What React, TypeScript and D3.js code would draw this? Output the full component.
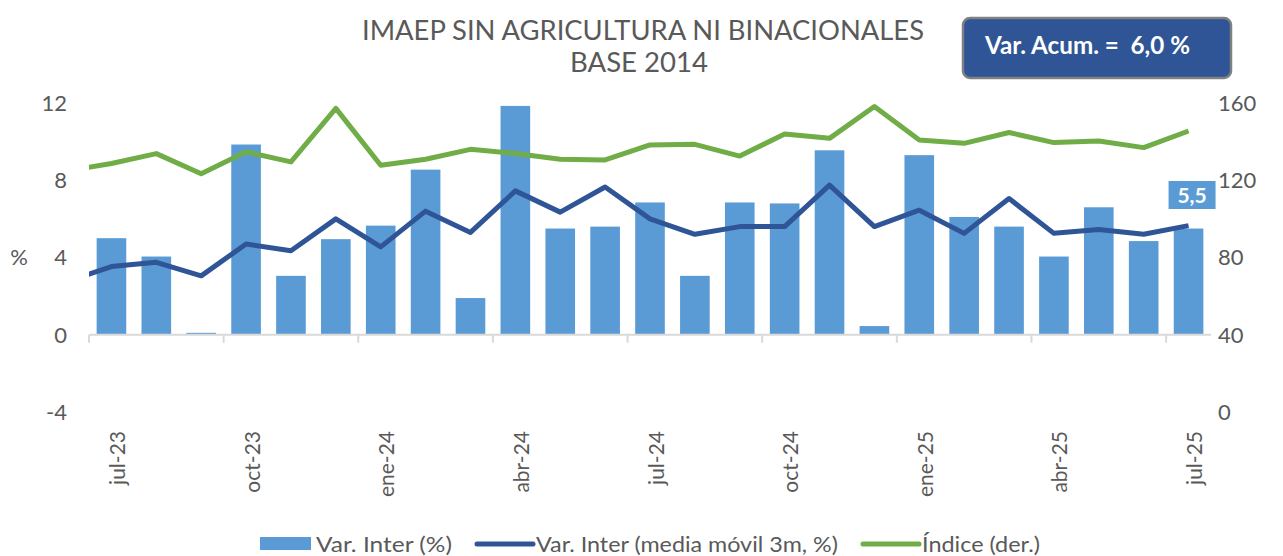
import React from 'react';
import * as d3 from 'd3';

// months shown on the x axis
const months = [
  'jul-23', 'ago-23', 'sep-23', 'oct-23', 'nov-23', 'dic-23',
  'ene-24', 'feb-24', 'mar-24', 'abr-24', 'may-24', 'jun-24',
  'jul-24', 'ago-24', 'sep-24', 'oct-24', 'nov-24', 'dic-24',
  'ene-25', 'feb-25', 'mar-25', 'abr-25', 'may-25', 'jun-25', 'jul-25',
];

// Var. Inter (%) - bars, left axis
const varInter = [
  5.0, 4.05, 0.1, 9.85, 3.05, 4.95, 5.65, 8.55, 1.9, 11.85, 5.5, 5.6,
  6.85, 3.05, 6.85, 6.8, 9.55, 0.45, 9.3, 6.1, 5.6, 4.05, 6.6, 4.85, 5.5,
];

// Var. Inter (media movil 3m, %) - left axis
const mediaMovil = [
  3.53, 3.75, 3.05, 4.7, 4.35, 6.0, 4.55, 6.4, 5.3, 7.45, 6.35, 7.65,
  6.0, 5.2, 5.6, 5.6, 7.75, 5.6, 6.45, 5.25, 7.05, 5.25, 5.45, 5.2, 5.65,
];

// Indice (der.) - right axis
const indice = [
  128.7, 133.8, 123.4, 134.7, 129.5, 157.2, 127.8, 130.9, 136.0, 133.8, 130.9, 130.5,
  138.3, 138.6, 132.5, 144.0, 141.7, 158.2, 140.9, 139.1, 144.7, 139.5, 140.3, 136.9, 145.5,
];

// value of the month before jul-23 (jun-23), the line enters from the left edge
const prevMediaMovil = 2.75;
const prevIndice = 124.7;

const leftTicks = [-4, 0, 4, 8, 12];
const rightTicks = [0, 40, 80, 120, 160];

const titleLines = ['IMAEP SIN AGRICULTURA NI BINACIONALES', 'BASE 2014'];
const accumLabel = 'Var. Acum. =  6,0 %';
const lastLabel = '5,5';

const W = 1283;
const H = 556;
const FONT = "Lato, 'Open Sans', sans-serif";
const GREY = '#595959';
const BAR = '#5B9BD5';
const DARK = '#2F5597';
const GREEN = '#70AD47';

const App = () => {
  const left = 89, right = 1211, top = 103, bottom = 412;

  const x = d3.scaleBand<string>().domain(months).range([left, right])
    .paddingInner(0.34).paddingOuter(0.17);
  const yL = d3.scaleLinear().domain([-4, 12]).range([bottom, top]);
  const yR = d3.scaleLinear().domain([0, 160]).range([bottom, top]);
  const step = x.step();
  const cx = (i: number) => (x(months[0]) as number) + x.bandwidth() / 2 + i * step;

  const avgPts: [number, number][] = [[cx(-1), yL(prevMediaMovil)],
    ...mediaMovil.map((v, i) => [cx(i), yL(v)] as [number, number])];
  const idxPts: [number, number][] = [[cx(-1), yR(prevIndice)],
    ...indice.map((v, i) => [cx(i), yR(v)] as [number, number])];
  const line = d3.line();

  const zeroY = yL(0);
  const tickIdx = d3.range(0, months.length + 1, 3);
  const lastI = months.length - 1;

  return (
    <svg width={W} height={H} style={{ position: 'absolute', left: 0, top: 0, fontFamily: FONT }}>
      <defs>
        <clipPath id="plot">
          <rect x={left} y={0} width={right - left} height={H} />
        </clipPath>
      </defs>

      {/* title */}
      <text x={643} y={40} textAnchor="middle" fontSize={27} fill={GREY} textLength={562} lengthAdjust="spacingAndGlyphs">{titleLines[0]}</text>
      <text x={639} y={72} textAnchor="middle" fontSize={27} fill={GREY} textLength={138} lengthAdjust="spacingAndGlyphs">{titleLines[1]}</text>

      {/* accumulated box */}
      <rect x={963} y={18} width={268} height={60} rx={7} fill={DARK} stroke="#808080" strokeWidth={2.5} />
      <text x={985} y={54} fontSize={24} fontWeight="bold" fill="#fff" style={{ whiteSpace: 'pre' }} textLength={205} lengthAdjust="spacingAndGlyphs">{accumLabel}</text>

      {/* left axis */}
      {leftTicks.map(t => (
        <text key={'l' + t} x={67} y={yL(t)} dy="0.36em" textAnchor="end" fontSize={22} fill={GREY}>{t}</text>
      ))}
      <text x={19} y={yL(4)} dy="0.36em" textAnchor="middle" fontSize={22} fill={GREY}>%</text>

      {/* right axis */}
      {rightTicks.map(t => (
        <text key={'r' + t} x={1218} y={yR(t)} dy="0.36em" textAnchor="start" fontSize={22} fill={GREY}>{t}</text>
      ))}

      {/* bars */}
      {varInter.map((v, i) => (
        <rect key={months[i]} x={x(months[i])} width={x.bandwidth()}
          y={yL(Math.max(v, 0))} height={Math.abs(yL(v) - zeroY)} fill={BAR} />
      ))}

      {/* category axis */}
      <line x1={left} x2={right} y1={zeroY} y2={zeroY} stroke="#D9D9D9" strokeWidth={2} />
      {tickIdx.map(k => (
        <line key={'t' + k} x1={left + k * step} x2={left + k * step} y1={zeroY} y2={zeroY + 8} stroke="#D9D9D9" strokeWidth={2} />
      ))}
      {months.map((m, i) => i % 3 === 0 ? (
        <text key={'x' + m} transform={`translate(${cx(i) + 6},431) rotate(-90)`} dy="0.36em"
          textAnchor="end" fontSize={21} fill={GREY}>{m}</text>
      ) : null)}

      {/* lines */}
      <g clipPath="url(#plot)">
        <path d={line(idxPts) || ''} fill="none" stroke={GREEN} strokeWidth={5} strokeLinejoin="round" />
        <path d={line(avgPts) || ''} fill="none" stroke={DARK} strokeWidth={5} strokeLinejoin="round" />
      </g>

      {/* label of the last bar */}
      <rect x={cx(lastI) - 20} y={181} width={47} height={28} fill={BAR} />
      <text x={cx(lastI) + 3.5} y={195} dy="0.36em" textAnchor="middle" fontSize={21} fontWeight="bold" fill="#fff">{lastLabel}</text>

      {/* legend */}
      <g fontSize={21} fill={GREY}>
        <rect x={260} y={537} width={51} height={13} fill={BAR} />
        <text x={316} y={552} textLength={136} lengthAdjust="spacingAndGlyphs">Var. Inter (%)</text>
        <line x1={477} x2={533} y1={544} y2={544} stroke={DARK} strokeWidth={5} strokeLinecap="round" />
        <text x={536} y={552} textLength={302} lengthAdjust="spacingAndGlyphs">Var. Inter (media móvil 3m, %)</text>
        <line x1={863} x2={919} y1={544} y2={544} stroke={GREEN} strokeWidth={5} strokeLinecap="round" />
        <text x={922} y={552} textLength={118} lengthAdjust="spacingAndGlyphs">Índice (der.)</text>
      </g>
    </svg>
  );
};

export default App;
